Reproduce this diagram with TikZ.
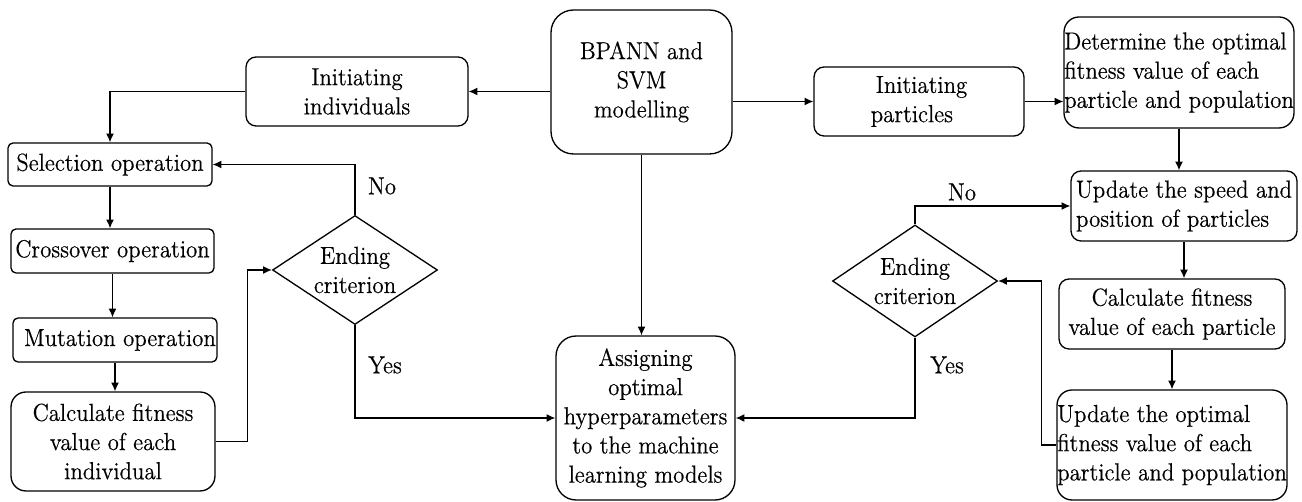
\documentclass[tikz,border=0pt]{standalone}
\usepackage{fontspec}
\newfontfamily\tms{Latin Modern Roman}[FakeStretch=0.93,FakeBold=0.4]
\usetikzlibrary{shapes.geometric,arrows.meta}
\begin{document}
\begin{tikzpicture}[x=0.02cm,y=-0.02cm,
  bx/.style={draw,line width=0.75pt,inner sep=0pt,align=center,font=\tms\fontsize{14}{16.6}\selectfont},
  dia/.style={draw,line width=0.75pt,shape=diamond,inner sep=0pt,minimum width=3.3cm},
  txt/.style={inner sep=0pt,align=center,font=\tms\fontsize{14}{16.6}\selectfont},
  arr/.style={line width=0.7pt,-{Latex[length=5pt,width=4.5pt]}}]
\useasboundingbox (0,0) rectangle (1302,502);
% left branch
\node[bx,rounded corners=0.45cm,minimum width=3.62cm,minimum height=2.88cm] (bp) at (641.5,82) {BPANN and\\SVM\\modelling};
\node[bx,rounded corners=0.2cm,minimum width=4.44cm,minimum height=1.38cm] (ii) at (357,91.5) {Initiating\\individuals};
\node[bx,rounded corners=0.1cm,minimum width=4.08cm,minimum height=0.86cm] (sel) at (110,164.5) {Selection operation};
\node[bx,rounded corners=0.1cm,minimum width=4.06cm,minimum height=0.88cm] (cross) at (112.5,251) {Crossover operation};
\node[bx,rounded corners=0.1cm,minimum width=4.08cm,minimum height=0.88cm] (mut) at (115,340) {\hspace*{0.2cm}Mutation operation};
\node[bx,rounded corners=0.3cm,minimum width=4.08cm,minimum height=1.98cm] (calcI) at (113,441.5) {Calculate fitness\\value of each\\individual};
\node[dia,minimum height=2.18cm] (dL) at (355,270) {};
\node[txt] (dLt) at (355,270) {Ending\\criterion};
\node[bx,rounded corners=0.4cm,minimum width=3.58cm,minimum height=3.28cm] (assign) at (645.5,418) {Assigning\\optimal\\hyperparameters\\to the machine\\learning models};
% right branch
\node[bx,rounded corners=0.2cm,minimum width=4.2cm,minimum height=1.38cm,align=left] (ip) at (919,101.5) {\hspace*{0.1cm}Initiating\\particles};
\node[bx,rounded corners=0.3cm,minimum width=4.6cm,minimum height=2.22cm,align=left] (det) at (1179,72.5) {Determine the optimal\\fitness value of each\\particle and population};
\node[bx,rounded corners=0.2cm,minimum width=4.52cm,minimum height=1.4cm,align=left] (ups) at (1184,206) {Update the speed and\\position of particles};
\node[bx,rounded corners=0.2cm,minimum width=4.52cm,minimum height=1.4cm] (calcP) at (1172,314) {Calculate fitness\\value of each particle};
\node[bx,rounded corners=0.3cm,minimum width=4.6cm,minimum height=2.2cm,align=left] (upo) at (1172,445) {Update the optimal\\fitness value of each\\particle and population};
\node[dia,minimum height=2.24cm] (dR) at (915,281) {};
\node[txt] (dRt) at (915,281) {Ending\\criterion};
% connectors
\draw[arr] (ii.east -| bp.west) -- (ii.east);
\draw[arr] (ii.west) -| (sel.north);
\draw[arr] (sel.south) -- (sel.south |- cross.north);
\draw[arr] (cross.south) -- (cross.south |- mut.north);
\draw[arr] (mut.south) -- (mut.south |- calcI.north);
\draw[arr] (calcI.east) -- ++(32,0) |- (dL.west);
\draw[arr] (dL.north) |- (sel.east);
\draw[arr] (dL.south) |- (assign.west);
\draw[arr] (bp.south) -- (bp.south |- assign.north);
\draw[arr] (ip.west -| bp.east) -- (ip.west);
\draw[arr] (ip.east) -- (ip.east -| det.west);
\draw[arr] (det.south) -- (det.south |- ups.north);
\draw[arr] (ups.south) -- (ups.south |- calcP.north);
\draw[arr] (calcP.south) -- (calcP.south |- upo.north);
\draw[arr] (upo.west) -- ++(-15,0) |- (dR.east);
\draw[arr] (dR.north) |- (ups.west);
\draw[arr] (dR.south) |- (assign.east);
% labels
\node[txt] (noL) at (382,186) {No};
\node[txt] (yesL) at (385,365) {Yes};
\node[txt] (noR) at (962,192) {No};
\node[txt] (yesR) at (947,365) {Yes};
\end{tikzpicture}
\end{document}
